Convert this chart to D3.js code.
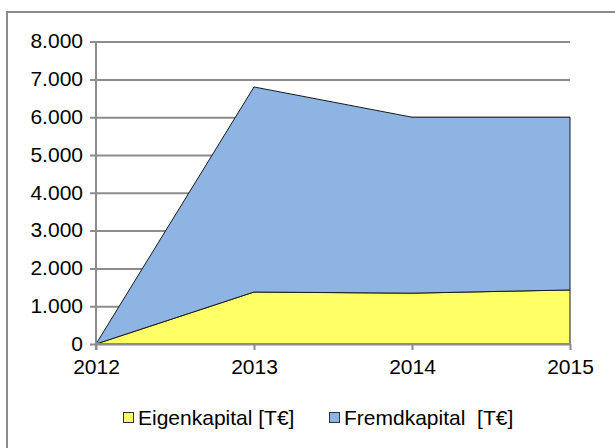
<!DOCTYPE html>
<html>
<head>
<meta charset="utf-8">
<script src="https://cdn.jsdelivr.net/npm/d3@7/dist/d3.min.js"></script>
<style>
  html, body { margin: 0; padding: 0; background: #fff; }
  svg { display: block; }
  text { font-family: "Liberation Sans", Arial, sans-serif; fill: #000; }
</style>
</head>
<body>
<svg id="chart" width="615" height="448"></svg>
<script>
// Balance sheet structure by year, in thousands of euros
const years = ["2012", "2013", "2014", "2015"];
const eigenkapital = [0, 1375, 1345, 1430];
const fremdkapital = [0, 5425, 4655, 4570];
const seriesNames = ["Eigenkapital [T€]", "Fremdkapital  [T€]"];
const seriesColors = ["#FFFF66", "#8EB4E3"];
const yTicks = [0, 1000, 2000, 3000, 4000, 5000, 6000, 7000, 8000];

const svg = d3.select("#chart");
const fontSize = 21;
const gridColor = "#8c8c8c";

// Outer chart frame (runs past the right and bottom edges)
svg.append("rect")
  .attr("x", 7).attr("y", 12)
  .attr("width", 640).attr("height", 460)
  .attr("fill", "none")
  .attr("stroke", gridColor)
  .attr("stroke-width", 2);

const x = d3.scalePoint().domain(years).range([96, 570]);
const y = d3.scaleLinear().domain([0, 8000]).range([344, 41.6]);

const rows = years.map((yr, i) => ({
  year: yr,
  eigen: eigenkapital[i],
  fremd: fremdkapital[i]
}));
const stack = d3.stack().keys(["eigen", "fremd"]);
const layers = stack(rows);

// Horizontal gridlines with their left tick marks
const yAxis = d3.axisLeft(y)
  .tickValues(yTicks)
  .tickSize(-(570 - 96))
  .tickSizeOuter(0)
  .tickPadding(13)
  .tickFormat(d => d3.format(",")(d).replace(/,/g, "."));
const gy = svg.append("g").attr("transform", "translate(96,0)").call(yAxis);
gy.select(".domain").remove();
gy.selectAll(".tick line")
  .attr("x1", -6)
  .attr("stroke", gridColor)
  .attr("stroke-width", 2);
gy.selectAll(".tick text")
  .attr("font-size", fontSize)
  .attr("font-family", "Liberation Sans, Arial, sans-serif")
  .attr("fill", "#000")
  .attr("dy", "0.3em");

// Stacked areas
const area = d3.area()
  .x(d => x(d.data.year))
  .y0(d => y(d[0]))
  .y1(d => y(d[1]));

svg.append("g").selectAll("path")
  .data(layers)
  .join("path")
  .attr("d", area)
  .attr("fill", (d, i) => seriesColors[i])
  .attr("stroke", "#1a1a1a")
  .attr("stroke-width", 1)
  .attr("stroke-linejoin", "miter");

// Vertical axis line
svg.append("line")
  .attr("x1", 96).attr("x2", 96)
  .attr("y1", y(8000)).attr("y2", 350)
  .attr("stroke", gridColor).attr("stroke-width", 2);

// Category axis at the bottom
const xAxis = d3.axisBottom(x).tickSize(6).tickSizeOuter(0).tickPadding(9);
const gx = svg.append("g").attr("transform", "translate(0,344)").call(xAxis);
gx.select(".domain").attr("stroke", gridColor).attr("stroke-width", 2)
  .attr("d", "M96,0H570");
gx.selectAll(".tick line").attr("stroke", gridColor).attr("stroke-width", 2);
gx.selectAll(".tick text")
  .attr("font-size", fontSize)
  .attr("font-family", "Liberation Sans, Arial, sans-serif")
  .attr("fill", "#000");

// Legend
const legendX = [123, 329];
const legend = svg.append("g").selectAll("g")
  .data(seriesNames)
  .join("g")
  .attr("transform", (d, i) => `translate(${legendX[i]},412)`);
legend.append("rect")
  .attr("x", 0.5).attr("y", 0.5)
  .attr("width", 10).attr("height", 10)
  .attr("fill", (d, i) => seriesColors[i])
  .attr("stroke", "#333").attr("stroke-width", 1);
legend.append("text")
  .attr("x", 15).attr("y", 13)
  .attr("font-size", fontSize)
  .style("white-space", "pre")
  .attr("xml:space", "preserve")
  .text(d => d);
</script>
</body>
</html>
